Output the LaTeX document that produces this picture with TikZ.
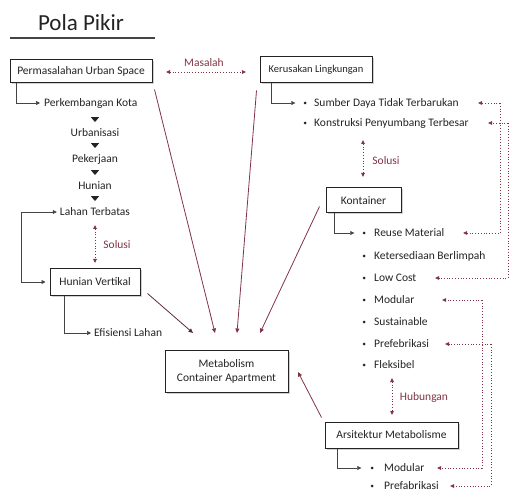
\documentclass[tikz,border=0pt]{standalone}
\usepackage{fontspec}
\setmainfont{Carlito}
\usetikzlibrary{arrows.meta,shapes.geometric,shadows,calc}
\definecolor{maroon}{RGB}{128,52,70}
\definecolor{ink}{RGB}{35,35,35}
\tikzset{
 box/.style={draw=ink,line width=1pt,fill=white,inner sep=0pt,align=center,font=\fontsize{11.5}{14}\selectfont,text=ink,drop shadow={shadow xshift=1.5pt,shadow yshift=-1.5pt,fill=black!35}},
 item/.style={inner sep=0pt,font=\fontsize{11.5}{13}\selectfont,text=ink},
 lab/.style={inner sep=0pt,font=\fontsize{11.5}{13}\selectfont,text=maroon},
 bul/.style={circle,fill=ink,inner sep=0pt,minimum size=3pt},
 tri/.style={isosceles triangle,isosceles triangle apex angle=80,shape border rotate=-90,fill=ink,inner sep=0pt,minimum height=5pt,minimum width=7pt},
 conn/.style={draw=ink!85,line width=0.7pt,-{Triangle[length=4pt,width=4pt]}},
 redarrow/.style={draw=maroon,line width=0.8pt,-{Triangle[length=4.5pt,width=4pt]}},
 dotarrow/.style={draw=maroon,line width=0.8pt,dotted,{Triangle[length=4pt,width=3.5pt]}-{Triangle[length=4pt,width=3.5pt]}},
 dotone/.style={draw=maroon,line width=0.8pt,dotted,-{Triangle[length=4pt,width=3.5pt]}},
}
\begin{document}
\begin{tikzpicture}[x=1pt,y=-1pt]
\useasboundingbox (0,0) rectangle (511,494);
% title
\node[inner sep=0pt,font=\fontsize{23}{26}\selectfont,text=ink] (title) at (81,23) {Pola Pikir};
\draw[ink!85,line width=2.5pt] (10,38) -- (155,38);

% boxes
\node[box,minimum width=142pt,minimum height=23pt] (perm) at (81,71.5) {Permasalahan Urban Space};
\node[box,font=\fontsize{10.5}{13}\selectfont,minimum width=112pt,minimum height=26pt] (kerus) at (316,70) {Kerusakan Lingkungan};
\node[box,minimum width=75pt,minimum height=25pt] (kont) at (363.5,200.5) {Kontainer};
\node[box,minimum width=90pt,minimum height=26pt] (hunv) at (95,282) {Hunian Vertikal};
\node[box,minimum width=123pt,minimum height=42pt] (meta) at (226.5,371) {Metabolism\\Container Apartment};
\node[box,minimum width=133pt,minimum height=26pt] (arsit) at (391.5,435) {Arsitektur Metabolisme};

% left chain
\node[item,anchor=west] (pk) at (44,103) {Perkembangan Kota};
\node[tri] (t1) at (95,119) {};
\node[item] (urb) at (95,133) {Urbanisasi};
\node[tri] (t2) at (95,145) {};
\node[item] (pek) at (95,159) {Pekerjaan};
\node[tri] (t3) at (95,172) {};
\node[item] (hun) at (95,186) {Hunian};
\node[tri] (t4) at (95,198) {};
\node[item] (lahan) at (95,212) {Lahan Terbatas};
\node[item,anchor=west] (efi) at (94,333) {Efisiensi Lahan};

\draw[conn] ($(perm.south west)+(7,0)$) |- ($(pk.west)+(-4,0)$);
\coordinate (lk) at (21,212);
\draw[conn] (lk) -- ($(lahan.west)+(-3,0)$);
\draw[conn] (lk) |- ($(hunv.west)+(-4,0)$);
\draw[conn] ($(hunv.south west)+(15,0)$) |- ($(efi.west)+(-3,0)$);

\coordinate (s1a) at (95,225);
\coordinate (s1b) at (95,263);
\draw[dotarrow] (s1a) -- (s1b);
\node[lab] (sol1) at (117,245) {Solusi};

% masalah
\coordinate (ma) at (166,72);
\coordinate (mb) at (246,72);
\draw[dotarrow] (ma) -- (mb);
\node[lab] (mas) at (204,63) {Masalah};

% kerusakan list
\node[bul] (b1) at (305,103) {};
\node[item,anchor=west] (sdt) at (314,103) {Sumber Daya Tidak Terbarukan};
\node[bul] (b2) at (305,123) {};
\node[item,anchor=west] (kpt) at (314,123) {Konstruksi Penyumbang Terbesar};
\draw[conn] ($(kerus.south west)+(12,0)$) |- ($(b1.west)+(-8,0)$);

\coordinate (s2a) at (363,140);
\coordinate (s2b) at (363,177);
\draw[dotarrow] (s2a) -- (s2b);
\node[lab] (sol2) at (386,161) {Solusi};

% kontainer list
\node[bul] (c1) at (364,233) {};
\node[item,anchor=west] (reuse) at (374,233) {Reuse Material};
\node[bul] (c2) at (364,256) {};
\node[item,anchor=west] (kete) at (374,256) {Ketersediaan Berlimpah};
\node[bul] (c3) at (364,278) {};
\node[item,anchor=west] (low) at (374,278) {Low Cost};
\node[bul] (c4) at (364,300) {};
\node[item,anchor=west] (mod1) at (374,300) {Modular};
\node[bul] (c5) at (364,322) {};
\node[item,anchor=west] (sus) at (374,322) {Sustainable};
\node[bul] (c6) at (364,344) {};
\node[item,anchor=west] (pre1) at (374,344) {Prefebrikasi};
\node[bul] (c7) at (364,365) {};
\node[item,anchor=west] (fle) at (374,365) {Fleksibel};
\draw[conn] ($(kont.south west)+(9,0)$) |- ($(c1.west)+(-8,0)$);

\coordinate (s3a) at (392,378);
\coordinate (s3b) at (392,415);
\draw[dotarrow] (s3a) -- (s3b);
\node[lab] (hub) at (424,397) {Hubungan};

% arsitektur list
\node[bul] (d1) at (372,468) {};
\node[item,anchor=west] (mod2) at (384,468) {Modular};
\node[bul] (d2) at (372,486) {};
\node[item,anchor=west] (pre2) at (384,486) {Prefabrikasi};
\draw[conn] ($(arsit.south west)+(13,0)$) |- ($(d1.west)+(-9,0)$);

% right dotted links
\coordinate (r1a) at (478,103);
\coordinate (r1b) at (463,233);
\draw[dotone] (500,103) -- (r1a);
\draw[dotone] (500,103) |- (r1b);
\coordinate (r2a) at (488,123);
\coordinate (r2b) at (435,278);
\draw[dotone] (508,123) -- (r2a);
\draw[dotone] (508,123) |- (r2b);
\coordinate (r3a) at (442,300);
\coordinate (r3b) at (437,468);
\draw[dotone] (482,300) -- (r3a);
\draw[dotone] (482,300) |- (r3b);
\coordinate (r4a) at (445,344);
\coordinate (r4b) at (450,486);
\draw[dotone] (491,344) -- (r4a);
\draw[dotone] (491,344) |- (r4b);

% arrows to metabolism box
\coordinate (m1) at (193,333);
\coordinate (m2) at (215,333);
\coordinate (m3) at (237,333);
\coordinate (m4) at (260,333);
\coordinate (m5) at (298,372);
\draw[redarrow,draw=maroon!60!ink] ($(hunv.south east)+(7,-2)$) -- (m1);
\draw[redarrow] ($(perm.south east)+(2,6)$) -- (m2);
\draw[redarrow] ($(kerus.south west)+(-3,7)$) -- (m3);
\draw[redarrow] ($(kont.west)+(-6,6)$) -- (m4);
\draw[redarrow] ($(arsit.north west)+(-3,-4)$) -- (m5);
\end{tikzpicture}
\end{document}
